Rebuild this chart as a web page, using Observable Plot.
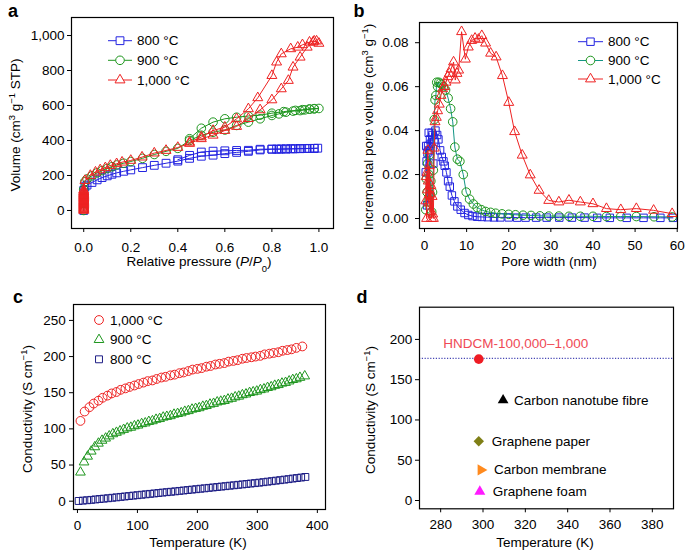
<!DOCTYPE html>
<html><head><meta charset="utf-8">
<script src="https://cdn.jsdelivr.net/npm/d3@7"></script>
<script src="https://cdn.jsdelivr.net/npm/@observablehq/plot@0.6"></script>
<style>
body{margin:0;background:#fff;}
#root{position:relative;width:685px;height:552px;overflow:hidden;background:#fff;}
</style></head><body><div id="root"></div>
<script>
// ---------- Panel a: N2 isotherms (adsorption then desorption order) ----------
const a800P = [0,0,0,0,0.005,0.014,0.035,0.057,0.078,0.1,0.12,0.14,0.17,0.2,0.25,0.3,0.35,0.4,0.45,0.5,0.55,0.6,0.65,0.7,0.75,0.8,0.82,0.84,0.86,0.88,0.9,0.92,0.94,0.96,0.98,0.995,0.98,0.95,0.92,0.89,0.86,0.83,0.8,0.75,0.7,0.65,0.6,0.55,0.5,0.45,0.4];
const a800V = [0,40,80,115,135,145,160,175,188,198,207,215,224,232,245,258,270,282,298,310,316,325,332,338,346,350,351,352,352,353,353,354,354,355,355,356,355,354,353,352,351,350,351,350,344,343,341,339,334,315,290];
const a900P = [0,0,0,0,0.005,0.014,0.035,0.057,0.078,0.1,0.12,0.14,0.17,0.2,0.25,0.3,0.35,0.4,0.45,0.5,0.55,0.6,0.65,0.7,0.75,0.8,0.83,0.86,0.89,0.92,0.94,0.96,0.98,1.0,0.98,0.96,0.93,0.9,0.85,0.8,0.75,0.7,0.65,0.6,0.55,0.5,0.45];
const a900V = [0,40,80,120,165,180,198,215,228,240,250,260,270,280,298,320,338,355,400,430,447,460,486,505,524,543,552,562,568,571,575,579,581,583,582,580,576,572,565,556,545,540,533,524,505,470,410];
const a1000P = [0,0,0,0,0,0,0,0,0,0,0,0,0,0,0,0,0,0,0,0,0,0,0,0,0.005,0.028,0.05,0.07,0.092,0.113,0.14,0.163,0.2,0.248,0.3,0.35,0.4,0.45,0.5,0.55,0.6,0.65,0.7,0.75,0.8,0.84,0.87,0.89,0.92,0.95,0.975,0.99,1.0,0.98,0.96,0.93,0.91,0.88,0.84,0.82,0.8,0.74,0.7,0.65,0.6,0.55,0.5,0.45];
const a1000V = [0,5,10,15,20,25,30,35,40,45,50,55,60,65,70,75,80,85,90,95,100,105,110,118,171,200,219,232,244,257,267,276,286,305,328,343,360,383,410,430,457,480,525,575,632,695,743,819,876,933,962,968,955,968,962,947,933,924,895,848,771,644,581,524,476,457,420,390];

// ---------- Panel b: pore size distribution ----------
const b800X = [0.3,0.4,0.5,0.6,0.7,0.85,1.0,1.15,1.3,1.5,1.7,1.9,2.1,2.3,2.6,3.0,3.3,3.7,4.1,4.5,4.8,5.2,5.6,6.0,6.5,7.1,7.8,8.6,9.5,10.4,11.4,12.5,13.6,15,16.5,18,20,22,24,26.5,29,32,35,38,41,44,48,52,56,59];
const b800Y = [0.021,0.033,0.026,0.006,0.03,0.033,0.039,0.031,0.036,0.034,0.039,0.038,0.025,0.035,0.04,0.038,0.036,0.031,0.028,0.026,0.024,0.021,0.017,0.0145,0.0105,0.0078,0.0055,0.004,0.0025,0.0016,0.0011,0.0008,0.0007,0.0006,0.0005,0.0005,0.0005,0.0004,0.0004,0.0004,0.0004,0.0004,0.0004,0.0004,0.0003,0.0003,0.0003,0.0003,0.0003,0.0003];
const b900X = [0.3,0.45,0.6,0.75,0.9,1.05,1.2,1.35,1.5,1.7,1.9,2.1,2.3,2.5,2.7,2.9,3.1,3.4,3.7,4.1,4.5,5.0,5.6,6.2,6.7,7.2,7.8,8.4,9.2,9.9,10.7,11.6,12.5,13.5,14.5,15.7,16.9,18.4,20,21.6,23.4,25.3,27.4,29.5,31.9,34.3,37,40,43.2,46.6,50.3,54.5,58.8];
const b900Y = [0.004,0.018,0.012,0.025,0.008,0.02,0.029,0.011,0.017,0.003,0.012,0.022,0.045,0.054,0.056,0.062,0.06,0.062,0.0615,0.061,0.06,0.0585,0.0548,0.05,0.044,0.0325,0.027,0.026,0.02,0.012,0.0088,0.0066,0.005,0.004,0.0032,0.0028,0.0024,0.0021,0.0019,0.0017,0.0015,0.0014,0.0012,0.0011,0.0011,0.001,0.001,0.001,0.0009,0.0009,0.0009,0.0008,0.0007];
const b1000X = [0.3,0.4,0.5,0.6,0.7,0.8,0.9,1.0,1.1,1.2,1.35,1.5,1.65,1.8,1.95,2.1,2.3,2.5,2.8,3.1,3.5,3.9,4.3,4.7,5.1,5.5,5.9,6.3,6.9,7.3,7.7,8.1,8.8,9.7,10.4,11.2,12.0,12.8,13.6,14.5,15.7,17.0,18.5,20.0,21.4,23.2,25.1,27.2,29.5,31.9,34.3,37.0,40.0,43.2,46.6,50.3,54.4,58.8];
const b1000Y = [0.008,0.019,0.0,0.021,0.013,0.031,0.017,0.007,0.024,0.011,0.003,0.015,0.0,0.01,0.002,0.0,0.032,0.044,0.046,0.049,0.052,0.056,0.059,0.06,0.062,0.0645,0.066,0.068,0.0712,0.063,0.066,0.0675,0.085,0.0725,0.078,0.081,0.082,0.0815,0.0832,0.0798,0.0752,0.0735,0.065,0.0528,0.0395,0.0288,0.0198,0.0128,0.0082,0.0075,0.0083,0.0075,0.0067,0.0045,0.004,0.0045,0.0037,0.0022];

// ---------- Panel c: conductivity vs temperature ----------
const c1000T = [5,12,20,27,35,42,50,57,65,72,80,87,95,102,110,117,125,132,140,147,155,162,170,177,185,192,200,207,215,222,230,237,245,252,260,267,275,282,290,297,305,312,320,327,335,342,350,357,365,375];
const c1000S = [111,124,130,135,139,143,146,149,151,154,156,158,160,162,164,166,167,169,171,172,174,175,177,178,180,182,183,184,186,187,189,190,191,193,194,195,197,198,199,200,201,203,204,205,206,208,209,210,212,214];
const c900T = [5,11,17,23,29,35,41,47,53,59,65,71,77,83,89,95,101,107,113,119,125,131,137,143,149,155,161,167,173,179,185,191,197,203,209,215,221,227,233,239,245,251,257,263,269,275,281,287,293,299,305,311,317,323,329,335,341,347,353,359,365,371,379];
const c900S = [40,54,62,69,75,80,84,87,90,93,95,97,99,101,102,104,105,107,108,110,111,113,114,116,117,118,120,121,122,124,125,127,128,129,131,132,134,135,137,138,139,141,142,144,145,147,148,150,151,152,154,155,157,158,160,161,163,164,166,168,169,171,173];
const c800T = [2,9,16,23,30,37,44,51,58,65,72,79,86,93,100,107,114,121,128,135,142,149,156,163,170,177,184,191,198,205,212,219,226,233,240,247,254,261,268,275,282,289,296,303,310,317,324,331,338,345,352,359,366,373,380];
const c800S = [0.3,0.8,1.3,1.8,2.4,3,3.5,4.1,4.7,5.3,5.9,6.5,7.1,7.7,8.3,8.9,9.5,10.1,10.7,11.3,11.9,12.5,13,13.6,14.2,14.8,15.4,16,16.6,17.2,17.8,18.4,19,19.6,20.2,20.8,21.4,22,22.6,23.2,23.8,24.4,25,25.6,26.3,27,27.7,28.4,29.1,29.8,30.5,31.3,32,32.7,33.5];

// ---------- Panel d: comparison ----------
const dNames = ["HNDCM-100,000\u20131,000", "Carbon nanotube fibre", "Graphene paper", "Carbon membrane", "Graphene foam"];
const dT = [298, 309.5, 298, 299, 298.5];
const dS = [175.5, 124.5, 73.5, 38, 11];
const dRef = [176.5];

// ---------- Tick values & labels ----------
const seriesLabels = ["800 \u00b0C", "900 \u00b0C", "1,000 \u00b0C"];
const aXTicks = [0, 0.2, 0.4, 0.6, 0.8, 1.0];
const aYTicks = [0, 200, 400, 600, 800, 1000];
const bXTicks = [0, 10, 20, 30, 40, 50, 60];
const bYTicks = [0, 0.02, 0.04, 0.06, 0.08];
const cXTicks = [0, 100, 200, 300, 400];
const cYTicks = [0, 50, 100, 150, 200, 250];
const dXTicks = [280, 300, 320, 340, 360, 380];
const dYTicks = [0, 50, 100, 150, 200];

// ---------- helpers ----------
const FONT = '"Liberation Sans", Arial, Helvetica, sans-serif';
const FS = 13.5;
const root = document.getElementById("root");
const rows = (xs, ys) => xs.map((x, i) => ({x, y: ys[i]}));

const RED = "#ee2222", GREEN = "#1e961e", BLUE = "#2323e0";
const NAVY = "#1d1d85", TEAL = "#139585";

const symRight = {
  draw(ctx, size) {
    const s = Math.sqrt(4 * size / Math.sqrt(3));
    const h = s * Math.sqrt(3) / 2;
    ctx.moveTo(2 * h / 3, 0);
    ctx.lineTo(-h / 3, s / 2);
    ctx.lineTo(-h / 3, -s / 2);
    ctx.closePath();
  }
};

function panel(o) {
  const svg = Plot.plot({
    width: o.width, height: o.height,
    marginLeft: o.ml, marginRight: o.mr, marginTop: o.mt, marginBottom: o.mb,
    style: {fontFamily: FONT, fontSize: FS + "px", color: "#000", background: "transparent", overflow: "visible"},
    x: {domain: o.xd, ticks: o.xt, tickFormat: o.xf, tickSize: 4, tickPadding: o.xpad, label: null},
    y: {domain: o.yd, ticks: o.yt, tickFormat: o.yf, tickSize: 4, tickPadding: o.ypad, label: null},
    marks: [...o.marks, Plot.frame({stroke: "#000", strokeWidth: 1.2})]
  });
  svg.style.position = "absolute";
  svg.style.left = o.left + "px";
  svg.style.top = o.top + "px";
  root.appendChild(svg);
  return d3.select(svg);
}

function rich(sel, x, y, parts, opt = {}) {
  const size = opt.size || FS;
  const t = sel.append("text")
    .attr("text-anchor", opt.anchor || "middle")
    .attr("font-family", FONT).attr("font-size", size)
    .attr("fill", opt.fill || "#000");
  if (opt.weight) t.attr("font-weight", opt.weight);
  if (opt.rotate) t.attr("transform", `translate(${x},${y}) rotate(-90)`);
  else t.attr("x", x).attr("y", y);
  for (const p of parts) {
    const [s, kind] = Array.isArray(p) ? p : [p, null];
    const ts = t.append("tspan").text(s);
    if (kind === "sup") ts.attr("baseline-shift", "super").attr("font-size", size * 0.7);
    if (kind === "sub") ts.attr("baseline-shift", "sub").attr("font-size", size * 0.7);
    if (kind === "it") ts.attr("font-style", "italic");
  }
}

function legend(sel, items, o) {
  items.forEach((it, i) => {
    const y = o.ys[i];
    if (o.line) sel.append("line").attr("x1", o.lx1).attr("x2", o.lx2).attr("y1", y).attr("y2", y)
      .attr("stroke", it.line).attr("stroke-width", 1);
    sel.append("path").attr("d", d3.symbol(it.sym, Math.PI * it.r * it.r)())
      .attr("transform", `translate(${o.mx},${y})`)
      .attr("fill", "#fff").attr("stroke", it.color).attr("stroke-width", 1);
    sel.append("text").attr("x", o.tx).attr("y", y).attr("dy", "0.35em")
      .attr("text-anchor", "start")
      .attr("font-family", FONT).attr("font-size", FS).attr("fill", "#000").text(it.label);
  });
}

function series(data, color, lineColor, symbol, r, withLine) {
  const m = [];
  if (withLine) m.push(Plot.line(data, {x: "x", y: "y", stroke: lineColor, strokeWidth: 1}));
  m.push(Plot.dot(data, {x: "x", y: "y", symbol, r, stroke: color, fill: "none", strokeWidth: 1}));
  return m;
}

// ---------- Panel a ----------
const A = panel({
  left: 0, top: 0, width: 340, height: 275, ml: 71, mr: 7, mt: 17, mb: 47,
  xd: [-0.052, 1.062], yd: [-103, 1103], xt: aXTicks, yt: aYTicks,
  xf: d3.format(".1f"), yf: d3.format(","), xpad: 10, ypad: 3,
  marks: [
    ...series(rows(a800P, a800V), BLUE, BLUE, "square", 4.4, true),
    ...series(rows(a900P, a900V), GREEN, GREEN, "circle", 4.3, true),
    ...series(rows(a1000P, a1000V), RED, RED, "triangle", 3.7, true)
  ]
});
legend(A, [
  {label: seriesLabels[0], sym: d3.symbolSquare, r: 4.4, color: BLUE, line: BLUE},
  {label: seriesLabels[1], sym: d3.symbolCircle, r: 4.3, color: GREEN, line: GREEN},
  {label: seriesLabels[2], sym: d3.symbolTriangle, r: 3.7, color: RED, line: RED}
], {line: true, lx1: 108, lx2: 132, mx: 120, tx: 137, ys: [40.7, 60.3, 80]});
rich(A, 199, 266, ["Relative pressure (", ["P", "it"], "/", ["P", "it"], ["0", "sub"], ")"]);
rich(A, 20, 125, ["Volume (cm", ["3", "sup"], " g", ["\u22121", "sup"], " STP)"], {rotate: true});
rich(A, 8, 16.7, ["a"], {anchor: "start", size: 18, weight: "bold"});

// ---------- Panel b ----------
const B = panel({
  left: 340, top: 0, width: 345, height: 275, ml: 79, mr: 8, mt: 22, mb: 47,
  xd: [-1.19, 60.07], yd: [-0.00455, 0.0892], xt: bXTicks, yt: bYTicks,
  xf: d3.format("d"), yf: d3.format(".2f"), xpad: 7.5, ypad: 7,
  marks: [
    ...series(rows(b800X, b800Y), BLUE, BLUE, "square", 4.2, true),
    ...series(rows(b900X, b900Y), GREEN, TEAL, "circle", 4.3, true),
    ...series(rows(b1000X, b1000Y), RED, RED, "triangle", 3.7, true)
  ]
});
legend(B, [
  {label: seriesLabels[0], sym: d3.symbolSquare, r: 4.2, color: BLUE, line: BLUE},
  {label: seriesLabels[1], sym: d3.symbolCircle, r: 4.3, color: GREEN, line: TEAL},
  {label: seriesLabels[2], sym: d3.symbolTriangle, r: 3.7, color: RED, line: RED}
], {line: true, lx1: 238, lx2: 263, mx: 250.5, tx: 268, ys: [41.7, 60.5, 79]});
rich(B, 209, 266, ["Pore width (nm)"]);
rich(B, 33, 127, ["Incremental pore volume (cm", ["3", "sup"], " g", ["\u22121", "sup"], ")"], {rotate: true});
rich(B, 13.5, 16.7, ["b"], {anchor: "start", size: 18, weight: "bold"});

// ---------- Panel c ----------
const C = panel({
  left: 0, top: 280, width: 340, height: 272, ml: 73, mr: 15, mt: 24, mb: 43,
  xd: [-6.6, 413.6], yd: [-11.5, 272], xt: cXTicks, yt: cYTicks,
  xf: d3.format("d"), yf: d3.format("d"), xpad: 7.4, ypad: 3.7,
  marks: [
    ...series(rows(c800T, c800S), NAVY, NAVY, "square", 3.9, false),
    ...series(rows(c900T, c900S), GREEN, GREEN, "triangle", 3.6, false),
    ...series(rows(c1000T, c1000S), RED, RED, "circle", 4.4, false)
  ]
});
legend(C, [
  {label: seriesLabels[2], sym: d3.symbolCircle, r: 4.4, color: RED},
  {label: seriesLabels[1], sym: d3.symbolTriangle, r: 3.6, color: GREEN},
  {label: seriesLabels[0], sym: d3.symbolSquare, r: 3.9, color: NAVY}
], {line: false, mx: 99, tx: 110, ys: [40, 59.7, 79.3]});
rich(C, 198, 267, ["Temperature (K)"]);
rich(C, 31.5, 129, ["Conductivity (S cm", ["\u22121", "sup"], ")"], {rotate: true});
rich(C, 13, 22.7, ["c"], {anchor: "start", size: 18, weight: "bold"});

// ---------- Panel d ----------
const dRows = dNames.map((name, i) => ({name, T: dT[i], S: dS[i]}));
const D = panel({
  left: 340, top: 280, width: 345, height: 272, ml: 79, mr: 12, mt: 26.7, mb: 43.7,
  xd: [270, 390], yd: [-10.3, 240], xt: dXTicks, yt: dYTicks,
  xf: d3.format("d"), yf: d3.format("d"), xpad: 7, ypad: 3.3,
  marks: [
    Plot.ruleY(dRef, {stroke: "#4646b4", strokeWidth: 1.2, strokeDasharray: "1.2,1.6"}),
    Plot.dot([dRows[0]], {x: "T", y: "S", symbol: "circle", r: 4.8, fill: "#ee1c24", stroke: "none"}),
    Plot.dot([dRows[1]], {x: "T", y: "S", symbol: "triangle", r: 4.0, fill: "#000", stroke: "none"}),
    Plot.dot([dRows[2]], {x: "T", y: "S", symbol: "diamond2", r: 4.7, fill: "#7f7f16", stroke: "none"}),
    Plot.dot([dRows[3]], {x: "T", y: "S", symbol: symRight, r: 4.2, fill: "#ff8a1e", stroke: "none"}),
    Plot.dot([dRows[4]], {x: "T", y: "S", symbol: "triangle", r: 4.1, fill: "#ff1aff", stroke: "none"}),
    Plot.text([dRows[0]], {x: "T", y: "S", text: "name", dx: 37, dy: -15, fill: "#ef4a55", fontSize: FS}),
    Plot.text([dRows[1]], {x: "T", y: "S", text: "name", dx: 11, textAnchor: "start", fill: "#000", fontSize: FS}),
    Plot.text(dRows.slice(2), {x: "T", y: "S", text: "name", dx: 13, textAnchor: "start", fill: "#000", fontSize: FS})
  ]
});
rich(D, 205, 267, ["Temperature (K)"]);
rich(D, 35, 130, ["Conductivity (S cm", ["\u22121", "sup"], ")"], {rotate: true});
rich(D, 16.5, 23.3, ["d"], {anchor: "start", size: 18, weight: "bold"});
</script></body></html>
